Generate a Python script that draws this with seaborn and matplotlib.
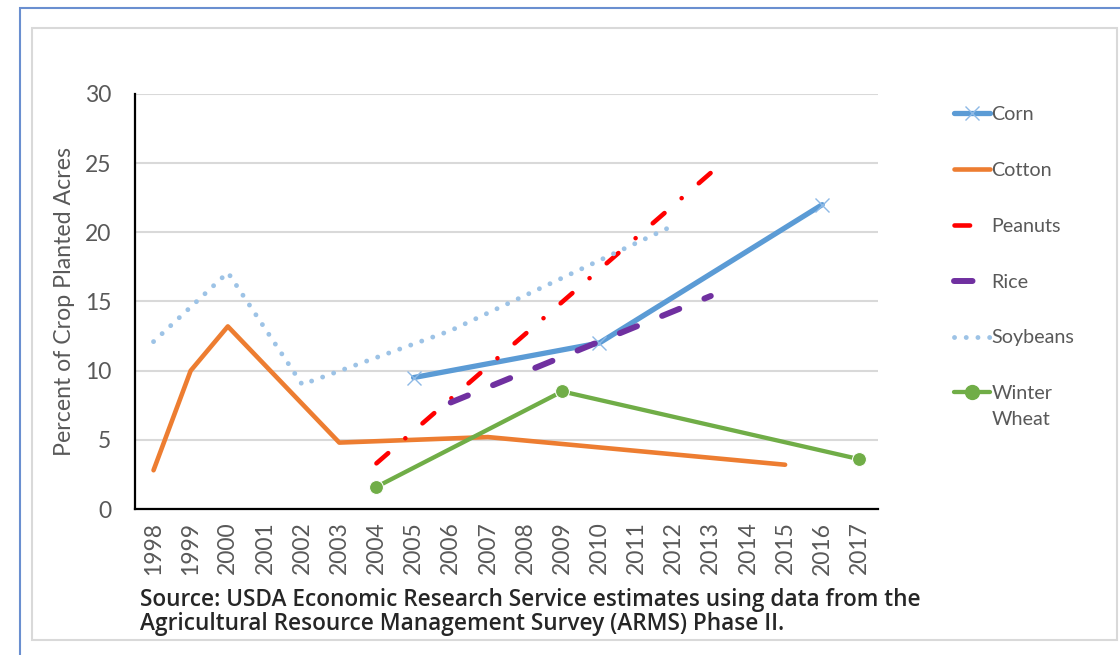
import matplotlib
matplotlib.use("Agg")
import matplotlib.pyplot as plt
from matplotlib.lines import Line2D
from matplotlib.patches import Rectangle
import seaborn as sns
import pandas as pd

# Share of planted acres by crop and ARMS survey year
corn_years = [2005, 2010, 2016]
corn_pct = [9.5, 12.0, 22.0]
cotton_years = [1998, 1999, 2000, 2003, 2007, 2015]
cotton_pct = [2.8, 10.0, 13.2, 4.8, 5.2, 3.2]
peanut_years = [2004, 2013]
peanut_pct = [3.3, 24.3]
rice_years = [2006, 2013]
rice_pct = [7.7, 15.4]
soy_years = [1998, 2000, 2002, 2006, 2012]
soy_pct = [12.1, 17.1, 9.0, 12.9, 20.5]
wheat_years = [2004, 2009, 2017]
wheat_pct = [1.6, 8.5, 3.6]

year_ticks = list(range(1998, 2018))
y_ticks = [0, 5, 10, 15, 20, 25, 30]

sns.set_theme(style="white")
plt.rcParams["font.family"] = ["Lato", "DejaVu Sans"]

fig = plt.figure(figsize=(11.2, 6.55), dpi=100)
ax = fig.add_axes([0.1205, 0.2229, 0.6634, 0.6336])

styles = {
    "Corn": dict(color="#5B9BD5", linewidth=3.8, marker="x", markersize=10,
                 markeredgewidth=1.0, markeredgecolor="#8DB9E6",
                 solid_capstyle="round"),
    "Cotton": dict(color="#ED7D31", linewidth=3.3, solid_capstyle="round"),
    "Peanuts": dict(color="#FF0000", linewidth=3.3, linestyle=(0, (3.4, 4.95, 0.01, 4.95)),
                    dash_capstyle="round"),
    "Rice": dict(color="#7030A0", linewidth=4.3, linestyle=(0, (3.1, 4.55)),
                 dash_capstyle="round"),
    "Soybeans": dict(color="#9DC3E6", linewidth=3.5, linestyle=(0, (0.01, 2.4)),
                     dash_capstyle="round"),
    "Winter": dict(color="#70AD47", linewidth=3.1, marker="o", markersize=10,
                   solid_capstyle="round"),
}

series = [
    ("Corn", corn_years, corn_pct),
    ("Cotton", cotton_years, cotton_pct),
    ("Peanuts", peanut_years, peanut_pct),
    ("Rice", rice_years, rice_pct),
    ("Soybeans", soy_years, soy_pct),
    ("Winter", wheat_years, wheat_pct),
]

for name, yrs, vals in series:
    df = pd.DataFrame({"year": yrs, "pct": vals})
    sns.lineplot(data=df, x="year", y="pct", ax=ax, legend=False,
                 zorder=3, **styles[name])

ax.set_xlim(1997.5, 2017.5)
ax.set_ylim(0, 30)
ax.set_xticks(year_ticks)
ax.set_xticklabels([str(y) for y in year_ticks], rotation=90)
ax.set_yticks(y_ticks)
ax.grid(axis="y", color="#D9D9D9", lw=1.5, zorder=0)
ax.grid(axis="x", visible=False)
for side in ("top", "right"):
    ax.spines[side].set_visible(False)
for side in ("left", "bottom"):
    ax.spines[side].set_color("#000000")
    ax.spines[side].set_linewidth(1.6)
ax.tick_params(axis="both", length=0, colors="#595959", labelsize=16.5)
ax.tick_params(axis="y", pad=17)
ax.tick_params(axis="x", pad=9)

ax.set_xlabel("")
ax.set_ylabel("Percent of Crop Planted Acres", fontsize=16.7, color="#595959")
ax.yaxis.set_label_coords(-0.081, 0.5)

# Legend on the right; the wheat entry wraps onto a second line
handles = [Line2D([0], [0], **styles[name]) for name, _, _ in series]
labels = [name for name, _, _ in series]
leg = fig.legend(handles, labels, loc="upper left",
                 bbox_to_anchor=(954 / 1120, 1 - 106 / 655),
                 frameon=False, fontsize=14.2, labelcolor="#595959",
                 handlelength=1.8, handletextpad=0.1, labelspacing=1.97,
                 borderaxespad=0, borderpad=0)

fig.canvas.draw()
last = leg.get_texts()[-1].get_window_extent()
fig.text(last.x0 / 1120, (last.y0 - 26) / 655, "Wheat", fontsize=14.2,
         color="#595959", ha="left", va="bottom")

src_font = dict(fontsize=16.3, color="#262626", fontweight="semibold",
                va="center", ha="left", family=["Open Sans", "DejaVu Sans"])
fig.text(140 / 1120, 1 - 600 / 655,
         "Source: USDA Economic Research Service estimates using data from the",
         **src_font)
fig.text(140 / 1120, 1 - 624 / 655,
         "Agricultural Resource Management Survey (ARMS) Phase II.",
         **src_font)

# Chart frame: outer blue border and inner gray panel outline
fig.add_artist(Rectangle((20 / 1120, -0.05), 1.2, 1 - 8 / 655 + 0.05,
                         transform=fig.transFigure, fill=False,
                         edgecolor="#6A8FD0", lw=1.5))
fig.add_artist(Rectangle((32 / 1120, 1 - 640 / 655), (1117 - 32) / 1120, (640 - 28) / 655,
                         transform=fig.transFigure, fill=False,
                         edgecolor="#D9D9D9", lw=1.5))

fig.savefig("out.png", dpi=100)
